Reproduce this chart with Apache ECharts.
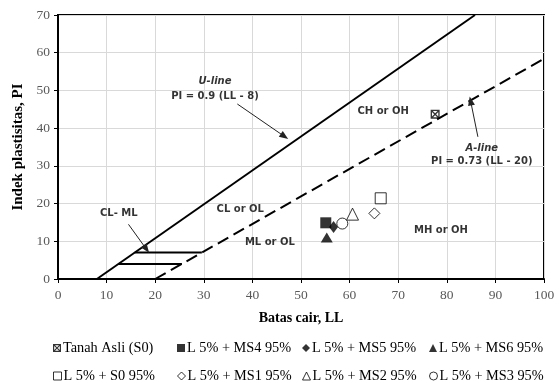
<!DOCTYPE html>
<html><head><meta charset="utf-8">
<script src="https://cdn.jsdelivr.net/npm/echarts@6/dist/echarts.min.js"></script>
<style>html,body{margin:0;padding:0;background:#fff}#c{width:560px;height:383px}</style>
</head><body><div id="c"></div>
<script>
// ---- data ----
const xRange = [0, 100];
const yRange = [0, 70];
const uLine = [[8, 0], [85.8, 70]];
const aLine = [[20, 0], [100, 58.4]];
const hatchUpper = [[15.8, 7], [29.6, 7]];
const hatchLower = [[12.4, 4], [25.5, 4]];

const tanahAsli = [[77.6, 43.7]];
const ms4 = [[55.1, 14.9]];
const ms5 = [[56.7, 13.8]];
const ms6 = [[55.3, 11.0]];
const s0 = [[66.4, 21.4]];
const ms1 = [[65.1, 17.4]];
const ms2 = [[60.6, 17.2]];
const ms3 = [[58.5, 14.7]];

const seriesNames = ['Tanah Asli (S0)', 'L 5% + MS4 95%', 'L 5% + MS5 95%', 'L 5% + MS6 95%',
                     'L 5% + S0 95%', 'L 5% + MS1 95%', 'L 5% + MS2 95%', 'L 5% + MS3 95%'];

const zoneLabels = [
  {name: 'U-line', value: [32.3, 52.5], italic: true},
  {name: 'PI = 0.9 (LL - 8)', value: [32.3, 48.3]},
  {name: 'CH or OH', value: [66.9, 44.4]},
  {name: 'A-line', value: [87.2, 34.5], italic: true},
  {name: 'PI = 0.73 (LL - 20)', value: [87.2, 31.1]},
  {name: 'CL- ML', value: [12.5, 17.4]},
  {name: 'CL or OL', value: [37.5, 18.4]},
  {name: 'ML or OL', value: [43.6, 9.6]},
  {name: 'MH or OH', value: [78.8, 12.9]}
];
const arrows = [
  [[36.9, 46.4], [46.6, 37.8]],
  [[86.4, 37.7], [84.9, 47.2]],
  [[14.5, 14.5], [18.2, 7.9]]
];

// ---- chart ----
const crossBox = 'path://M0,0L10,0L10,10L0,10Z M1.5,1.5L1.5,8.5L8.5,8.5L8.5,1.5Z M1.6,0.6L9.4,8.4L8.4,9.4L0.6,1.6Z M8.4,0.6L9.4,1.6L1.6,9.4L0.6,8.4Z';
const filled = {color: '#000'};
const hollow = {color: '#fff', borderColor: '#000', borderWidth: 1};
const serif = 'Liberation Serif';

function pt(name, data, symbol, size, style) {
  return {name, type: 'scatter', data, symbol, symbolSize: size, itemStyle: style, z: 5};
}
function seg(data, type) {
  return {type: 'line', data, symbol: 'none', silent: true,
    lineStyle: {color: '#000', width: 2, type: type || 'solid'}, z: 3};
}

const legendCenters = [[57, 349], [181, 349], [306, 349], [433, 349],
                       [57, 377], [181, 377], [306, 377], [433, 377]];
const iconSize = 8;

const chart = echarts.init(document.getElementById('c'), null, {renderer: 'canvas'});
chart.setOption({
  animation: false,
  backgroundColor: '#fff',
  grid: {left: 58, right: 16, top: 15, bottom: 104, show: true, borderColor: '#000', borderWidth: 2},
  xAxis: {
    type: 'value', min: xRange[0], max: xRange[1], interval: 10,
    name: 'Batas cair, LL', nameLocation: 'middle', nameGap: 32,
    nameTextStyle: {fontFamily: serif, fontWeight: 'bold', fontSize: 14, color: '#000'},
    axisLine: {show: true, lineStyle: {color: '#000', width: 2}},
    axisTick: {show: true, length: 4, lineStyle: {color: '#000'}},
    axisLabel: {fontFamily: serif, fontSize: 13.5, color: '#595959', margin: 9},
    splitLine: {show: true, lineStyle: {color: '#d9d9d9', width: 1}}
  },
  yAxis: {
    type: 'value', min: yRange[0], max: yRange[1], interval: 10,
    name: 'Indek plastisitas, PI', nameLocation: 'middle', nameGap: 31,
    nameTextStyle: {fontFamily: serif, fontWeight: 'bold', fontSize: 15, color: '#000'},
    axisLine: {show: true, lineStyle: {color: '#000', width: 2}},
    axisTick: {show: true, length: 4, lineStyle: {color: '#000'}},
    axisLabel: {fontFamily: serif, fontSize: 13.5, color: '#595959', margin: 8},
    splitLine: {show: true, lineStyle: {color: '#d9d9d9', width: 1}}
  },
  legend: seriesNames.map((n, i) => ({
    data: [n], left: legendCenters[i][0] - iconSize / 2, top: legendCenters[i][1] - 8, padding: 0,
    itemWidth: iconSize, itemHeight: iconSize, itemGap: 3, selectedMode: false,
    itemStyle: {borderWidth: i >= 4 ? 1 : 0},
    textStyle: {fontFamily: serif, fontSize: 14.3, color: '#000', padding: [0, 0, 0, -3]}
  })),
  series: [
    seg(uLine), seg(aLine, [12, 6]), seg(hatchUpper), seg(hatchLower),
    {
      type: 'scatter', silent: true, symbolSize: 0, z: 4,
      data: zoneLabels.map(d => ({
        name: d.name, value: d.value,
        label: {show: true, position: 'inside', formatter: '{b}',
          fontFamily: 'DejaVu Sans', fontWeight: 'bold', fontSize: 10, color: '#000',
          fontStyle: d.italic ? 'italic' : 'normal'}
      })),
      markLine: {
        silent: true, symbol: ['none', 'triangle'], symbolSize: [7, 9],
        label: {show: false},
        lineStyle: {color: '#222', width: 1, type: 'solid'},
        data: arrows.map(a => [{coord: a[0]}, {coord: a[1]}])
      }
    },
    pt(seriesNames[0], tanahAsli, crossBox, 9, filled),
    pt(seriesNames[1], ms4, 'rect', 11, filled),
    pt(seriesNames[2], ms5, 'diamond', [9, 12], filled),
    pt(seriesNames[3], ms6, 'triangle', [12, 10], filled),
    pt(seriesNames[4], s0, 'rect', 11, hollow),
    pt(seriesNames[5], ms1, 'diamond', 11, hollow),
    pt(seriesNames[6], ms2, 'triangle', [12, 12], hollow),
    pt(seriesNames[7], ms3, 'circle', 11, hollow)
  ]
});
</script></body></html>
